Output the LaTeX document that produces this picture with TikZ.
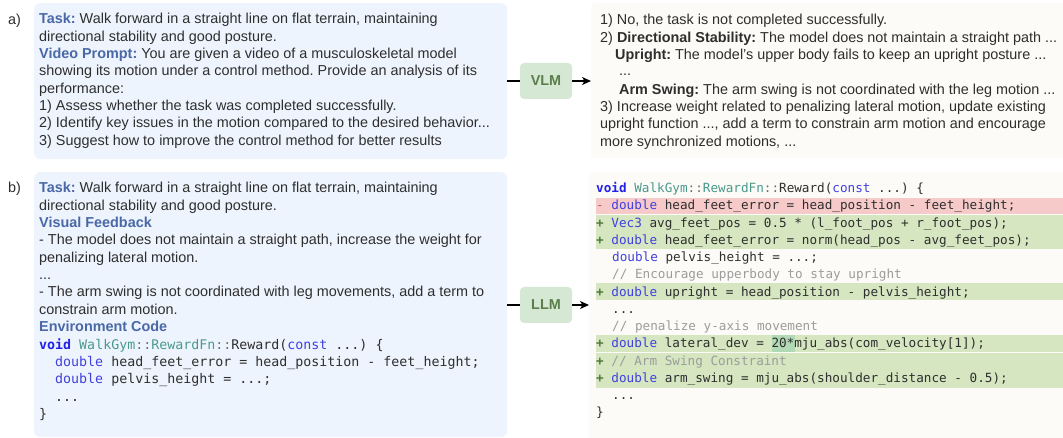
\documentclass[tikz,border=0pt]{standalone}
\usepackage{fontspec}
\setmainfont{Liberation Sans}
\newfontfamily\codefont{DejaVu Sans Mono}
\usetikzlibrary{arrows.meta}

\definecolor{ink}{HTML}{2E2E2E}
\definecolor{head}{HTML}{4A68A6}
\definecolor{bluebox}{HTML}{EEF4FD}
\definecolor{creambox}{HTML}{FCFBF7}
\definecolor{llmfill}{HTML}{D5E8D4}
\definecolor{llmtext}{HTML}{5B7E4B}
\definecolor{kwbold}{HTML}{2222E8}
\definecolor{kwtype}{HTML}{4040E0}
\definecolor{nsteal}{HTML}{4A9A8C}
\definecolor{cmtgray}{HTML}{9C9C9C}
\definecolor{opgray}{HTML}{707070}
\definecolor{addgreen}{HTML}{D5E6C0}
\definecolor{delred}{HTML}{F7CACA}
\definecolor{addsign}{HTML}{4F7A3C}
\definecolor{delsign}{HTML}{C25B5B}
\definecolor{numhl}{HTML}{B2D9B5}

% text helpers
\newcommand\hd[1]{\textcolor{head}{\textbf{#1}}}
\newcommand\ckw[1]{\textcolor{kwbold}{\textbf{#1}}}
\newcommand\cty[1]{\textcolor{kwtype}{#1}}
\newcommand\cns[1]{\textcolor{nsteal}{#1}}
\newcommand\ccm[1]{\textcolor{cmtgray}{#1}}
\newcommand\cop[1]{\textcolor{opgray}{#1}}
\newcommand\cadd{\textcolor{addsign}{\textbf{+}} }
\newcommand\cdel{\textcolor{delsign}{-} }
\newcommand\csig{\ckw{void} \cns{WalkGym}\cop{::}\cns{RewardFn}\cop{::}Reward(\cty{const} ...) \{}

\frenchspacing

\tikzset{
  txt/.style={anchor=base west, inner sep=0pt, text=ink,
    font=\fontsize{14.4}{17.3}\selectfont},
  codel/.style={anchor=base west, inner sep=0pt, text=ink,
    font=\codefont\fontsize{13.3}{17}\selectfont},
  coder/.style={anchor=base west, inner sep=0pt, text=ink,
    font=\codefont\fontsize{12.66}{17}\selectfont},
  inbox/.style={anchor=north west, fill=bluebox, rounded corners=6pt,
    inner sep=0pt, draw=none},
  outbox/.style={anchor=north west, fill=creambox, rounded corners=4pt,
    inner sep=0pt, draw=none},
  model/.style={fill=llmfill, rounded corners=4pt, text=llmtext,
    font=\fontsize{14.4}{17}\bfseries, minimum width=52pt,
    minimum height=36pt, inner sep=0pt},
  link/.style={line width=1.2pt, draw=black},
  flow/.style={link, -{Stealth[length=9pt,width=8pt,inset=2.5pt]}},
}

\begin{document}
\begin{tikzpicture}[x=1pt,y=-1pt]
\useasboundingbox[fill=white] (0,0) rectangle (1063,438);

% ---------- panels ----------
\node[inbox, minimum width=473pt, minimum height=156pt] (pa) at (34,3) {};
\node[outbox, minimum width=480pt, minimum height=155pt] (qa) at (591,3) {};
\node[inbox, minimum width=473pt, minimum height=265pt] (pb) at (34,172) {};
\node[outbox, minimum width=480pt, minimum height=270pt] (qb) at (589,172) {};

% ---------- models and connectors ----------
\node[model] (vlm) at (546,81) {VLM};
\node[model] (llm) at (546,305) {LLM};
\draw[link] (pa.east |- vlm) -- (vlm.west);
\draw[flow] (vlm.east) -- (vlm.east -| qa.west);
\draw[link] (pb.east |- llm) -- (llm.west);
\draw[flow] (llm.east) -- (llm.east -| qb.west);

% ---------- row labels ----------
\node[txt] (la) at (8,25) {a)};
\node[txt] (lb) at (8,193) {b)};

% ---------- prompt a ----------
\node[txt] (a1) at (39,24.0) {\hd{Task:} Walk forward in a straight line on flat terrain, maintaining};
\node[txt] (a2) at (39,41.3) {directional stability and good posture.};
\node[txt] (a3) at (39,58.6) {\hd{Video Prompt:} You are given a video of a musculoskeletal model};
\node[txt] (a4) at (39,75.9) {showing its motion under a control method. Provide an analysis of its};
\node[txt] (a5) at (39,93.2) {performance:};
\node[txt] (a6) at (39,110.5) {1) Assess whether the task was completed successfully.};
\node[txt] (a7) at (39,127.8) {2) Identify key issues in the motion compared to the desired behavior...};
\node[txt] (a8) at (39,145.1) {3) Suggest how to improve the control method for better results};

% ---------- answer a ----------
\node[txt] (r1) at (600,25.0) {1) No, the task is not completed successfully.};
\node[txt] (r2) at (600,42.3) {2) \textbf{Directional Stability:} The model does not maintain a straight path ...};
\node[txt] (r3) at (615,59.6) {\textbf{Upright:} The model's upper body fails to keep an upright posture ...};
\node[txt] (r4) at (619,75.5) {...};
\node[txt] (r5) at (619,94.2) {\textbf{Arm Swing:} The arm swing is not coordinated with the leg motion ...};
\node[txt] (r6) at (600,111.5) {3) Increase weight related to penalizing lateral motion, update existing};
\node[txt] (r7) at (600,128.8) {upright function ..., add a term to constrain arm motion and encourage};
\node[txt] (r8) at (600,146.1) {more synchronized motions, ...};

% ---------- prompt b ----------
\node[txt] (b1) at (39,193.0) {\hd{Task:} Walk forward in a straight line on flat terrain, maintaining};
\node[txt] (b2) at (39,210.3) {directional stability and good posture.};
\node[txt] (b3) at (39,227.6) {\hd{Visual Feedback}};
\node[txt] (b4) at (39,245.0) {- The model does not maintain a straight path, increase the weight for};
\node[txt] (b5) at (39,262.2) {penalizing lateral motion.};
\node[txt] (b6) at (39,279.5) {...};
\node[txt] (b7) at (39,296.8) {- The arm swing is not coordinated with leg movements, add a term to};
\node[txt] (b8) at (39,314.1) {constrain arm motion.};
\node[txt] (b9) at (39,331.4) {\hd{Environment Code}};
\node[codel] (c1) at (39,349.5) {\csig};
\node[codel] (c2) at (55,366.7) {\cty{double} head\_feet\_error = head\_position - feet\_height;};
\node[codel] (c3) at (55,383.9) {\cty{double} pelvis\_height = ...;};
\node[codel] (c4) at (55,401.0) {...};
\node[codel] (c5) at (39,418.0) {\}};

% ---------- diff bands ----------
\fill[delred]   (595.5,198) rectangle (1063,214.5);
\fill[addgreen] (595.5,215.5) rectangle (1063,249);
\fill[addgreen] (595.5,283.5) rectangle (1063,300);
\fill[addgreen] (595.5,335) rectangle (1063,352);
\fill[addgreen] (595.5,353) rectangle (1063,387.5);
\fill[numhl]    (771.5,335) rectangle (794.5,352);

% ---------- generated code ----------
\node[coder] (d1)  at (596,193.0) {\csig};
\node[coder] (d2)  at (596,210.0) {\cdel\cty{double} head\_feet\_error = head\_position - feet\_height;};
\node[coder] (d3)  at (596,227.3) {\cadd\cty{Vec3} avg\_feet\_pos = 0.5 * (l\_foot\_pos + r\_foot\_pos);};
\node[coder] (d4)  at (596,244.5) {\cadd\cty{double} head\_feet\_error = norm(head\_pos - avg\_feet\_pos);};
\node[coder] (d5)  at (612,261.7) {\cty{double} pelvis\_height = ...;};
\node[coder] (d6)  at (612,279.0) {\ccm{// Encourage upperbody to stay upright}};
\node[coder] (d7)  at (596,296.2) {\cadd\cty{double} upright = head\_position - pelvis\_height;};
\node[coder] (d8)  at (612,313.4) {...};
\node[coder] (d9)  at (612,330.6) {\ccm{// penalize y-axis movement}};
\node[coder] (d10) at (596,347.8) {\cadd\cty{double} lateral\_dev = 20*mju\_abs(com\_velocity[1]);};
\node[coder] (d11) at (596,365.0) {\cadd\ccm{// Arm Swing Constraint}};
\node[coder] (d12) at (596,382.3) {\cadd\cty{double} arm\_swing = mju\_abs(shoulder\_distance - 0.5);};
\node[coder] (d13) at (612,399.5) {...};
\node[coder] (d14) at (596,416.8) {\}};
\end{tikzpicture}
\end{document}
